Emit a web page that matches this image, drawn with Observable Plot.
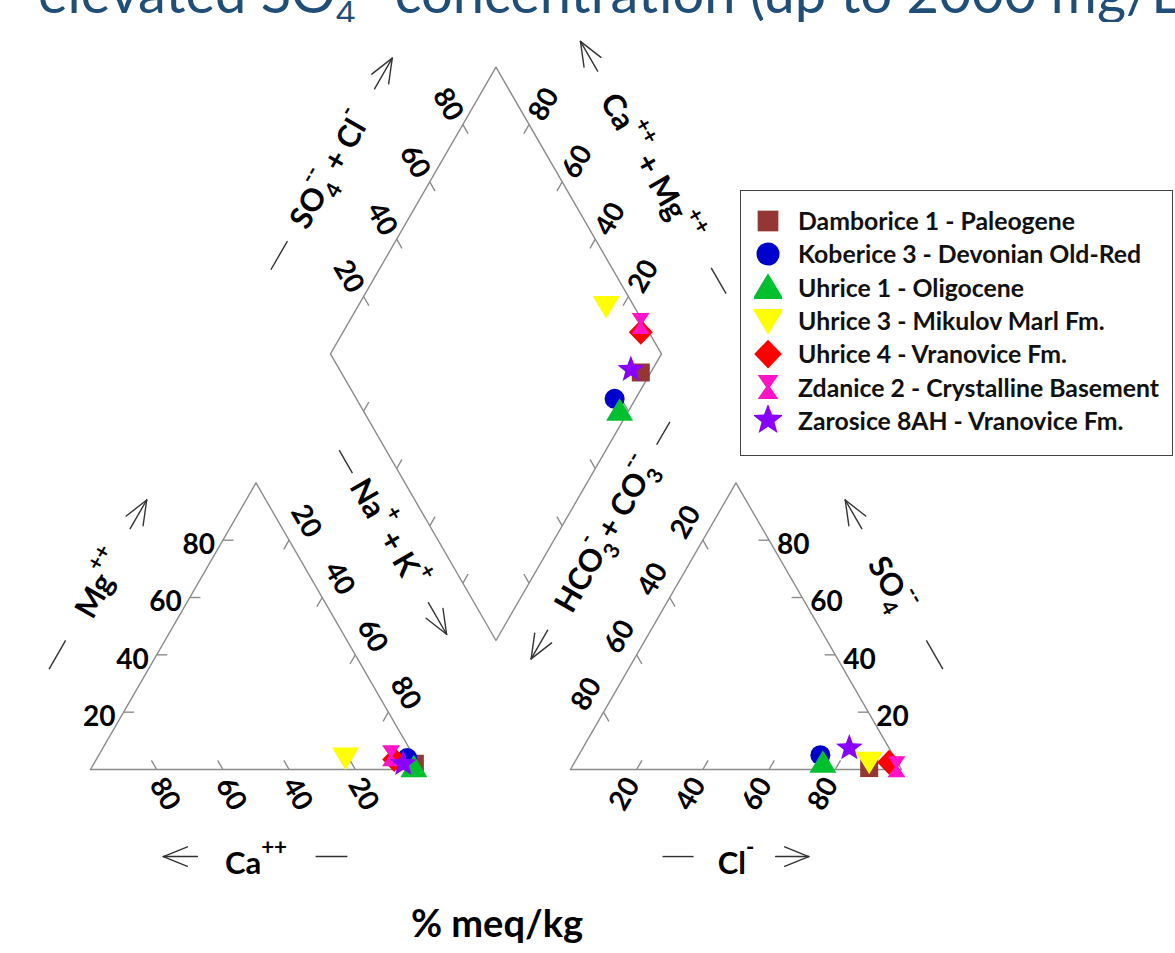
<!DOCTYPE html>
<html><head><meta charset="utf-8">
<script src="https://cdn.jsdelivr.net/npm/d3@7"></script>
<script src="https://cdn.jsdelivr.net/npm/@observablehq/plot@0.6"></script>
<style>
body{margin:0;background:#fff;width:1175px;height:953px;overflow:hidden;position:relative;font-family:Lato,"Open Sans",sans-serif;}
#title{position:relative;height:22px;overflow:hidden;}
#title .t{position:absolute;left:38px;top:-48px;font-size:56px;line-height:56px;color:#1f4e79;white-space:nowrap;}
#title sub,#title sup{font-size:0.6em;}
#chart svg{display:block;overflow:visible;}
#caption{height:53px;line-height:44px;text-align:center;padding-right:181px;font-size:38px;font-weight:bold;color:#000;}
#legend{position:absolute;left:740px;top:190px;width:433px;height:266px;border:1.5px solid #444;box-sizing:border-box;padding-top:13px;}
#legend .row{display:flex;align-items:center;height:33.3px;font-size:24.8px;font-weight:bold;color:#111;white-space:nowrap;}
#legend svg{margin-left:13px;margin-right:16px;flex:none;}
</style></head><body>
<div id="title"><span class="t">elevated SO<sub>4</sub><sup>--</sup> concentration (up to 2000 mg/L)</span></div>
<div id="chart"></div>
<div id="caption">% meq/kg</div>
<div id="legend"></div>
<script>
// ---------------- data ----------------
const samples = ["Damborice 1 - Paleogene","Koberice 3 - Devonian Old-Red","Uhrice 1 - Oligocene","Uhrice 3 - Mikulov Marl Fm.","Uhrice 4 - Vranovice Fm.","Zdanice 2 - Crystalline Basement","Zarosice 8AH - Vranovice Fm."];
const caPct   = [1.0, 2.3, 1.8, 21.0, 6.5, 6.8, 4.5];
const mgPct   = [2.0, 4.0, 1.0, 4.0, 3.5, 4.8, 2.0];
const naKPct  = [97.0, 93.7, 97.2, 75.0, 90.0, 88.4, 93.5];
const clPct   = [90.0, 73.0, 75.0, 89.0, 95.0, 98.0, 80.5];
const so4Pct  = [0.5, 5.0, 2.5, 2.5, 2.5, 1.0, 7.5];
const hco3Pct = [9.5, 22.0, 22.5, 8.5, 2.5, 1.0, 12.0];
const sampleColors = ["#943634","#0000cc","#00c030","#ffff00","#ff0000","#ff14c8","#8a00ff"];
const sampleShapes = ["square","circle","triangle","triangleDown","diamond","hourglass","star"];
const tickValues = [20,40,60,80];

// ---------------- geometry (ternary units) ----------------
const S=100, G=45, H=S*Math.sqrt(3)/2, C60=0.5, S60=Math.sqrt(3)/2;
const PX = 100/331; // ternary units per pixel
const add=(p,q,k=1)=>[p[0]+k*q[0], p[1]+k*q[1]];
const sub=(p,q)=>[p[0]-q[0], p[1]-q[1]];
const catA=[0,0], catB=[S,0], catC=[S/2,H];
const anA=[S+G,0], anB=[2*S+G,0], anC=[S+G+S/2,H];
const vR=[S/2,H], vL=[-S/2,H];
const dB=[S+G/2, G/2*Math.sqrt(3)], dR=add(dB,vR), dL=add(dB,vL), dT=add(add(dB,vR),vL);

// ---------------- symbols ----------------
const sym = f => ({draw(c, size){ f(c, Math.sqrt(size/Math.PI)); }});
const shapes = {
  square: sym((c,r)=>{const h=0.9*r; c.moveTo(-h,-h); c.lineTo(h,-h); c.lineTo(h,h); c.lineTo(-h,h); c.closePath();}),
  circle: sym((c,r)=>{c.moveTo(r,0); c.arc(0,0,r,0,2*Math.PI);}),
  triangle: sym((c,r)=>{c.moveTo(0,-1.2*r); c.lineTo(1.35*r,1.05*r); c.lineTo(-1.35*r,1.05*r); c.closePath();}),
  triangleDown: sym((c,r)=>{c.moveTo(0,1.2*r); c.lineTo(1.35*r,-1.05*r); c.lineTo(-1.35*r,-1.05*r); c.closePath();}),
  diamond: sym((c,r)=>{c.moveTo(0,-1.25*r); c.lineTo(1.2*r,0); c.lineTo(0,1.25*r); c.lineTo(-1.2*r,0); c.closePath();}),
  hourglass: sym((c,r)=>{const w=0.9*r,h=1.05*r,m=0.18*r; c.moveTo(-w,-h); c.lineTo(w,-h); c.lineTo(m,0); c.lineTo(w,h); c.lineTo(-w,h); c.lineTo(-m,0); c.closePath();}),
  star: sym((c,r)=>{const R=1.4*r, ri=R*0.42; for(let i=0;i<10;i++){const a=-Math.PI/2+i*Math.PI/5, rr=i%2?ri:R; const x=rr*Math.cos(a), y=rr*Math.sin(a); i?c.lineTo(x,y):c.moveTo(x,y);} c.closePath();})
};

// ---------------- sample positions ----------------
const pts = samples.map((name,i)=>{
  const ct=caPct[i]+mgPct[i]+naKPct[i], at=clPct[i]+so4Pct[i]+hco3Pct[i];
  const ca=caPct[i]/ct*100, mg=mgPct[i]/ct*100, na=naKPct[i]/ct*100;
  const cl=clPct[i]/at*100, so4=so4Pct[i]/at*100;
  const cation=[(na+mg/2)/100*S, mg/100*H];
  const anion=[anA[0]+(cl+so4/2)/100*S, so4/100*H];
  const dia=add(add(dB,vR,(cl+so4)/100),vL,(ca+mg)/100);
  return {name, color:sampleColors[i], shape:sampleShapes[i], pos:[cation,anion,dia].map(p=>({x:p[0],y:p[1]}))};
});

// ---------------- outlines ----------------
const outline=[];
[[catA,catB,catC,catA],[anA,anB,anC,anA],[dB,dR,dT,dL,dB]].forEach((poly,k)=>poly.forEach(p=>outline.push({k,x:p[0],y:p[1]})));

// ---------------- ticks ----------------
const TL = 3.2;
const tickDefs = [
  {at:v=>[(100-v)/100*S,0], dir:[-C60,S60], off:[8,24.5], rot:60, anchor:"middle"},          // Ca
  {at:v=>[v/200*S, v/100*H], dir:[1,0], off:[-8,5], rot:0, anchor:"end"},                      // Mg
  {at:v=>[(v+(100-v)/2)/100*S,(100-v)/100*H], dir:[-C60,-S60], off:[17,-19], rot:60, anchor:"middle"}, // Na+K
  {at:v=>[anA[0]+v/100*S,0], dir:[C60,S60], off:[-12,24.5], rot:-60, anchor:"middle"},        // Cl
  {at:v=>[anA[0]+(100-v/2)/100*S, v/100*H], dir:[-1,0], off:[8,5], rot:0, anchor:"start"},    // SO4
  {at:v=>[anA[0]+(100-v)/200*S,(100-v)/100*H], dir:[C60,-S60], off:[-17,-18], rot:-60, anchor:"middle"}, // HCO3
  {at:v=>add(add(dB,vR,v/100),vL,1), dir:[C60,-S60], off:[-15,-20], rot:60, anchor:"middle"}, // diamond SO4+Cl
  {at:v=>add(add(dB,vR,1),vL,v/100), dir:[-C60,-S60], off:[15,-20], rot:-60, anchor:"middle"},// diamond Ca+Mg
  {at:v=>add(dB,vL,v/100), dir:[C60,S60], off:null},                                          // diamond lower-left
  {at:v=>add(dB,vR,v/100), dir:[-C60,S60], off:null}                                          // diamond lower-right
];
const ticks=[], tickLabels=[];
tickDefs.forEach(d=>tickValues.forEach(v=>{
  const p=d.at(v), q=add(p,d.dir,TL);
  ticks.push({x1:p[0],y1:p[1],x2:q[0],y2:q[1]});
  if(d.off) tickLabels.push({x:p[0]+d.off[0]*PX, y:p[1]-d.off[1]*PX, text:String(v), rotate:d.rot, anchor:d.anchor});
}));

// ---------------- axis titles, dashes and arrows ----------------
const edges = {
  catBase:{A:catA,B:catB,n:[0,-1]}, catLeft:{A:catA,B:catC,n:[-S60,C60]}, catRight:{A:catC,B:catB,n:[S60,C60]},
  anBase:{A:anA,B:anB,n:[0,-1]}, anRight:{A:anB,B:anC,n:[S60,C60]}, anLeft:{A:anC,B:anA,n:[-S60,C60]},
  dUL:{A:dL,B:dT,n:[-S60,C60]}, dUR:{A:dR,B:dT,n:[S60,C60]}
};
const onEdge=(e,t,d)=>{const E=edges[e]; return add(add(E.A,sub(E.B,E.A),t),E.n,d);};
const axisTitles = [
  {e:"catBase", text:"Ca++", rot:0, t:0.5, d:28.5, dash:[0.68,0.776,26.3], arrow:[0.323,0.22,26.3]},
  {e:"catLeft", text:"Mg++", rot:-60, t:0.5, d:25, dash:[0.20,0.30,26], arrow:[0.69,0.79,26]},
  {e:"catRight", text:"Na+ + K+", rot:60, t:0.33, d:26.7, dash:[0.04,0.12,26.7], arrow:[0.574,0.684,27]},
  {e:"anBase", text:"Cl-", rot:0, t:0.5, d:28.5, dash:[0.278,0.372,26.3], arrow:[0.62,0.72,26.3]},
  {e:"anRight", text:"SO4--", rot:60, t:0.5, d:25, dash:[0.20,0.30,26], arrow:[0.69,0.79,26]},
  {e:"anLeft", text:"HCO3- + CO3--", rot:-60, t:0.333, d:26, dash:[-0.06,0.02,26.5], arrow:[0.67,0.77,27]},
  {e:"dUL", text:"SO4-- + Cl-", rot:-60, t:0.48, d:27.7, dash:[0.13,0.23,28.3], arrow:[0.76,0.867,28.5]},
  {e:"dUR", text:"Ca++ + Mg++", rot:60, t:0.504, d:25, dash:[0.06,0.15,26], arrow:[0.836,0.94,26]}
];
const titleData = axisTitles.map(a=>{const p=onEdge(a.e,a.t,a.d); return {x:p[0],y:p[1],text:a.text,rotate:a.rot};});
const dashData = axisTitles.map(a=>{const p=onEdge(a.e,a.dash[0],a.dash[2]), q=onEdge(a.e,a.dash[1],a.dash[2]); return {x1:p[0],y1:p[1],x2:q[0],y2:q[1]};});
// open arrows: shaft + two wings (equal unit scales in x and y, so rotations hold)
const HEAD = 26*PX, WING = 22*Math.PI/180;
const arrowData = [];
axisTitles.forEach(a=>{
  const p=onEdge(a.e,a.arrow[0],a.arrow[2]), q=onEdge(a.e,a.arrow[1],a.arrow[2]);
  arrowData.push({x1:p[0],y1:p[1],x2:q[0],y2:q[1]});
  const b=sub(p,q), L=Math.hypot(b[0],b[1]), u=[b[0]/L,b[1]/L];
  [WING,-WING].forEach(w=>{
    const r=[u[0]*Math.cos(w)-u[1]*Math.sin(w), u[0]*Math.sin(w)+u[1]*Math.cos(w)];
    arrowData.push({x1:q[0],y1:q[1],x2:q[0]+r[0]*HEAD,y2:q[1]+r[1]*HEAD});
  });
});

const richLabels = {
  "Ca++":[["Ca",""],["++","sup"]],
  "Mg++":[["Mg",""],["++","sup"]],
  "Cl-":[["Cl",""],["-","sup"]],
  "SO4--":[["SO",""],["4","sub"],["--","over"]],
  "Na+ + K+":[["Na",""],["+","sup"],[" + K",""],["+","sup"]],
  "HCO3- + CO3--":[["HCO",""],["3","sub"],["-","over"],[" + CO",""],["3","sub"],["--","over"]],
  "SO4-- + Cl-":[["SO",""],["4","sub"],["--","over"],[" + Cl",""],["-","sup"]],
  "Ca++ + Mg++":[["Ca",""],["++","sup"],[" + Mg",""],["++","sup"]]
};

// ---------------- plot ----------------
const font = "Lato, 'Open Sans', sans-serif";
const marks = [
  Plot.line(outline, {x:"x", y:"y", z:"k", stroke:"#8c8c8c", strokeWidth:1.4}),
  Plot.link(ticks, {x1:"x1", y1:"y1", x2:"x2", y2:"y2", stroke:"#8c8c8c", strokeWidth:1.4}),
  Plot.link(dashData, {x1:"x1", y1:"y1", x2:"x2", y2:"y2", stroke:"#333", strokeWidth:1.4}),
  Plot.link(arrowData, {x1:"x1", y1:"y1", x2:"x2", y2:"y2", stroke:"#333", strokeWidth:1.4, strokeLinecap:"round"}),
  ...["middle","end","start"].map(an=>Plot.text(tickLabels.filter(d=>d.anchor===an), {x:"x", y:"y", text:"text", rotate:"rotate", textAnchor:an, fontSize:28, fontWeight:"bold", fontFamily:font, fill:"#000"})),
  Plot.text(titleData, {x:"x", y:"y", text:"text", rotate:"rotate", textAnchor:"middle", fontSize:31, fontWeight:"bold", fontFamily:font, fill:"#000"}),
  ...pts.map(p=>Plot.dot(p.pos, {x:"x", y:"y", r:10, symbol:shapes[p.shape], fill:p.color, stroke:"none"}))
];
const chart = Plot.plot({
  width:1175, height:878, margin:0,
  x:{domain:[0,100], range:[90,421], axis:null},
  y:{domain:[0,100], range:[747,416], axis:null},
  style:{fontFamily:font, background:"transparent", overflow:"visible"},
  marks
});
document.getElementById("chart").appendChild(chart);

// rich text (sub/superscripts)
const NS="http://www.w3.org/2000/svg";
chart.querySelectorAll("text").forEach(el=>{
  const parts = richLabels[el.textContent];
  if(!parts) return;
  const fs = parseFloat(getComputedStyle(el).fontSize) || 31;
  while(el.firstChild) el.removeChild(el.firstChild);
  let cur=0, lastSubW=0;
  parts.forEach(([txt,kind])=>{
    const ts=document.createElementNS(NS,"tspan");
    ts.textContent=txt;
    let target=0;
    if(kind==="sub"){ target=0.32*fs; ts.setAttribute("font-size",0.7*fs); }
    else if(kind==="sup"||kind==="over"){ target=-0.6*fs; ts.setAttribute("font-size",0.72*fs); }
    ts.setAttribute("dy", target-cur);
    if(kind==="over") ts.setAttribute("dx", -lastSubW);
    cur=target;
    el.appendChild(ts);
    if(kind==="sub") lastSubW = ts.getComputedTextLength();
  });
});

// ---------------- legend ----------------
const legend = document.getElementById("legend");
pts.forEach(p=>{
  const row=document.createElement("div"); row.className="row";
  const s=d3.create("svg").attr("width",28).attr("height",30);
  s.append("path").attr("transform","translate(14,15)").attr("fill",p.color)
    .attr("d", d3.symbol(shapes[p.shape], Math.PI*11.5*11.5)());
  row.appendChild(s.node());
  const lab=document.createElement("span"); lab.textContent=p.name; row.appendChild(lab);
  legend.appendChild(row);
});
</script>
</body></html>
